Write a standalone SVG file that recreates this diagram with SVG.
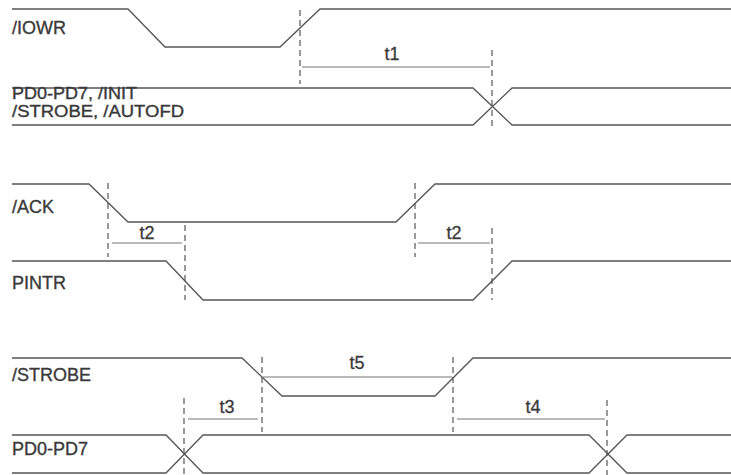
<svg xmlns="http://www.w3.org/2000/svg" width="731" height="475" viewBox="0 0 731 475">
<style>
.sig{fill:none;stroke:#555;stroke-width:1.3}
.dim{fill:none;stroke:#777;stroke-width:1.2}
.dash{fill:none;stroke:#555;stroke-width:1.2;stroke-dasharray:6 4}
.lbl{font-family:"Liberation Sans",Arial,sans-serif;font-size:18px;fill:#3a3a3a;stroke:#3a3a3a;stroke-width:0.35}
.lbs{font-family:"Liberation Sans",Arial,sans-serif;font-size:16px;fill:#3a3a3a;stroke:#3a3a3a;stroke-width:0.35}
.tl{font-family:"Liberation Sans",Arial,sans-serif;font-size:18px;fill:#3a3a3a;stroke:#3a3a3a;stroke-width:0.3;text-anchor:middle}
</style>
<rect width="731" height="475" fill="#fff"/>
<g id="sig-iowr">
<path class="sig" d="M12,9 H128 L165,47 H280 L320,9 H731"/>
<text class="lbl" x="12" y="34">/IOWR</text>
</g>
<g id="sig-pd-init">
<path class="sig" d="M12,88 H473 L512,125 H731 M12,125 H473 L512,88 H731"/>
<text class="lbs" x="12" y="99" textLength="125" lengthAdjust="spacingAndGlyphs">PD0-PD7, /INIT</text>
<text class="lbs" x="12" y="117" textLength="172" lengthAdjust="spacingAndGlyphs">/STROBE, /AUTOFD</text>
</g>
<g id="sig-ack">
<path class="sig" d="M12,184 H89 L128,222 H396 L435,184 H731"/>
<text class="lbl" x="12" y="213">/ACK</text>
</g>
<g id="sig-pintr">
<path class="sig" d="M12,261 H166 L203,300 H473 L512,261 H731"/>
<text class="lbl" x="12" y="289">PINTR</text>
</g>
<g id="sig-strobe">
<path class="sig" d="M12,358 H242 L282,396 H435 L473,358 H731"/>
<text class="lbl" x="12" y="381">/STROBE</text>
</g>
<g id="sig-pd">
<path class="sig" d="M12,435 H166 L203,473 H589 L627,435 H731 M12,473 H166 L203,435 H589 L627,473 H731"/>
<text class="lbl" x="12" y="455">PD0-PD7</text>
</g>
<g id="connectors">
<path class="dash" d="M300,10 V84 M492,50 V126 M108,183 V257 M185,225 V300 M415,183 V257 M492,228 V300 M262,357 V432 M453,357 V432 M184,398 V475 M607,400 V475"/>
<path class="dim" d="M302,67 H490 M112,243 H182 M418,243 H490 M263,377 H452 M188,419 H258 M457,419 H605"/>
</g>
<g id="labels">
<text class="tl" x="392" y="60">t1</text>
<text class="tl" x="147" y="239">t2</text>
<text class="tl" x="454" y="239">t2</text>
<text class="tl" x="357" y="369">t5</text>
<text class="tl" x="227" y="413">t3</text>
<text class="tl" x="533" y="413">t4</text>
</g>
</svg>
